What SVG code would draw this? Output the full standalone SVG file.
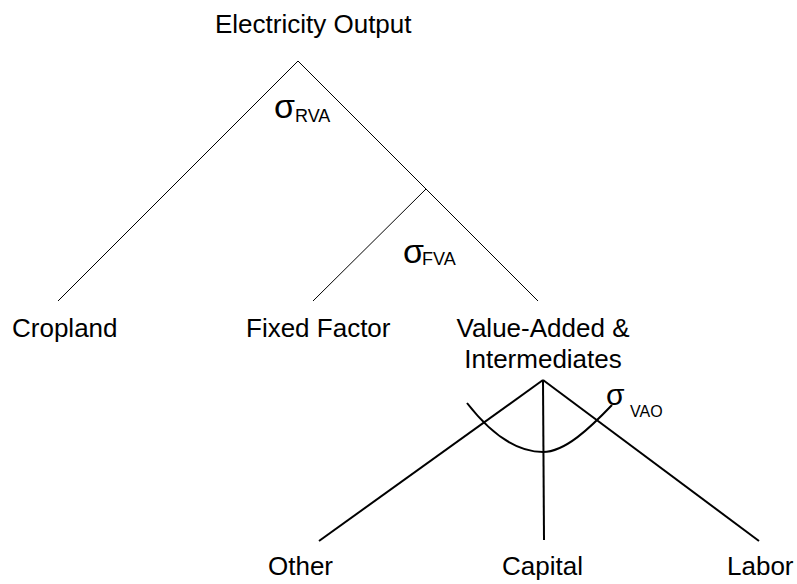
<svg xmlns="http://www.w3.org/2000/svg" width="797" height="584" viewBox="0 0 797 584">
<style>
.lbl{font-family:"Liberation Sans",Arial,sans-serif;font-size:26px;fill:#000}
.sig{font-family:"Liberation Sans",Arial,sans-serif;fill:#000}
.thin{stroke:#000;stroke-width:1;fill:none}
.thick{stroke:#000;stroke-width:2;fill:none}
</style>
<rect width="797" height="584" fill="#fff"/>
<g id="connectors">
<line class="thin" x1="298" y1="61" x2="58" y2="301"/>
<line class="thin" x1="298" y1="61" x2="538" y2="301"/>
<line class="thin" x1="426" y1="189" x2="313" y2="301"/>
<line class="thick" x1="543" y1="380" x2="319" y2="541"/>
<line class="thick" x1="543" y1="380" x2="544" y2="540"/>
<line class="thick" x1="543" y1="380" x2="759" y2="541"/>
<path class="thick" d="M467,403 Q505,452 543,452 C565,452 590,428 612,405"/>
</g>
<g id="electricity-output"><text class="lbl" x="215" y="33">Electricity Output</text></g>
<g id="cropland"><text class="lbl" x="12" y="337">Cropland</text></g>
<g id="fixed-factor"><text class="lbl" x="246" y="337">Fixed Factor</text></g>
<g id="value-added"><text class="lbl" x="543" y="337" text-anchor="middle">Value-Added &amp;</text><text class="lbl" x="543" y="368" text-anchor="middle">Intermediates</text></g>
<g id="other"><text class="lbl" x="268" y="575">Other</text></g>
<g id="capital"><text class="lbl" x="502" y="575">Capital</text></g>
<g id="labor"><text class="lbl" x="727" y="575">Labor</text></g>
<g id="sigma-rva"><text class="sig" x="274" y="118" font-size="34">σ</text><text class="sig" x="295" y="122" font-size="18">RVA</text></g>
<g id="sigma-fva"><text class="sig" x="403" y="263" font-size="34">σ</text><text class="sig" x="422" y="265" font-size="18">FVA</text></g>
<g id="sigma-vao"><text class="sig" x="606" y="405" font-size="30">σ</text><text class="sig" x="630" y="417" font-size="16">VAO</text></g>
</svg>
